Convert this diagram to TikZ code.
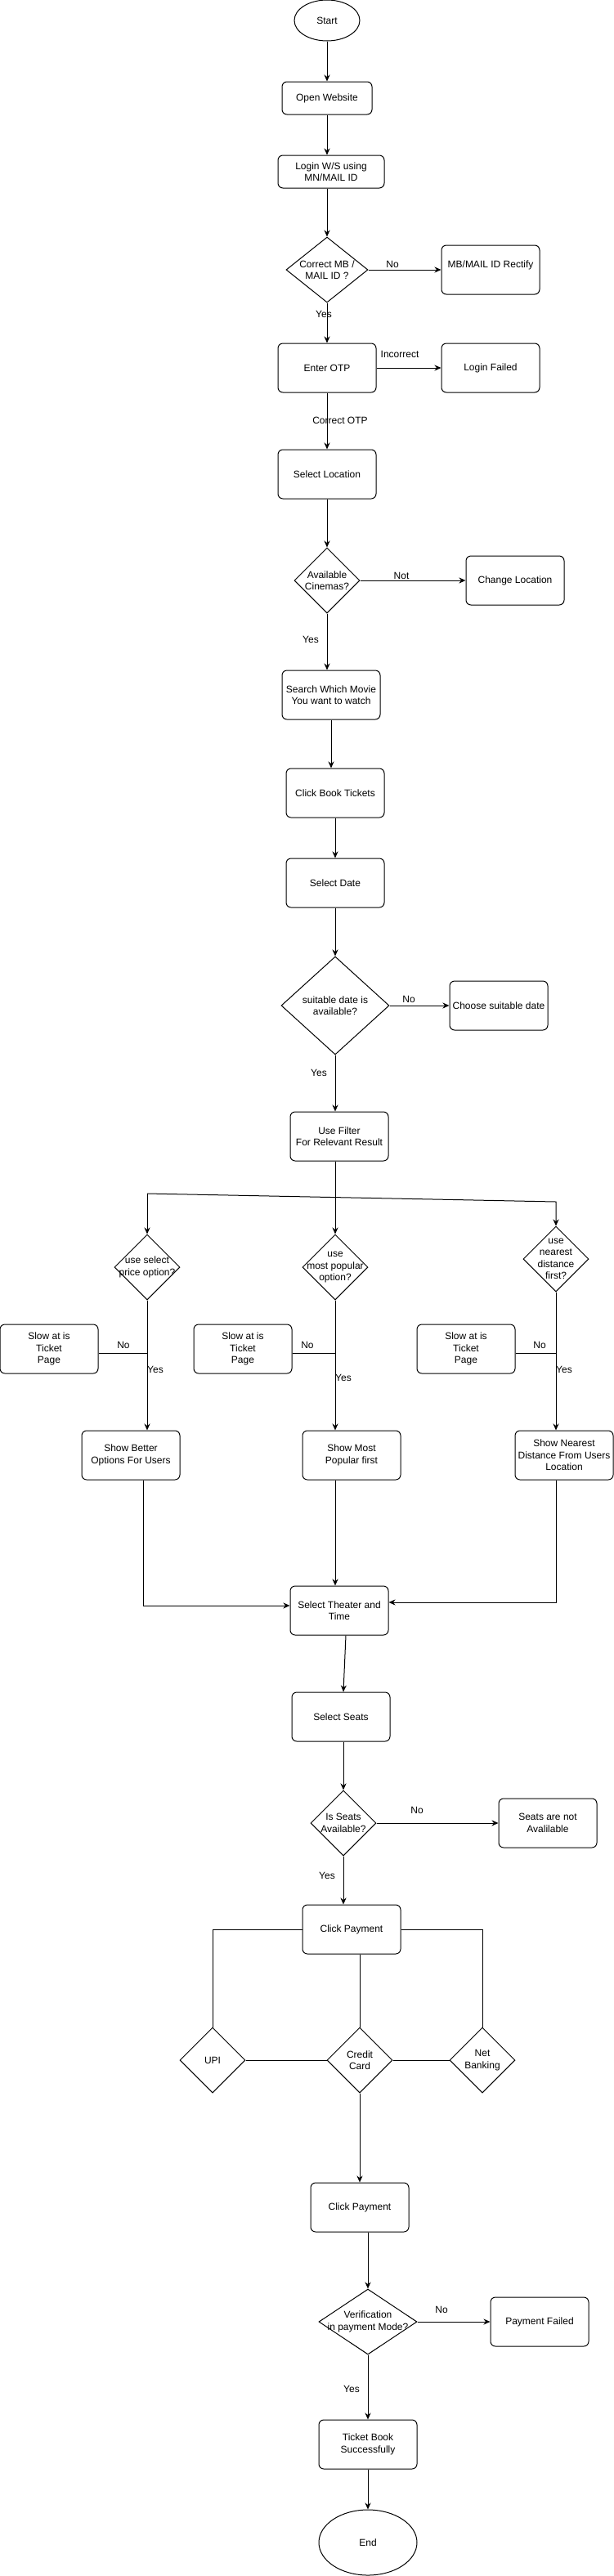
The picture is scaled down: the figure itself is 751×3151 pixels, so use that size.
\documentclass[tikz,border=0pt]{standalone}
\usepackage{fontspec}
\setmainfont{Liberation Sans}
\usetikzlibrary{arrows.meta, shapes.geometric}

\begin{document}
\begin{tikzpicture}[
    x=1pt, y=-1pt,
    every node/.style={font=\fontsize{12pt}{14.4pt}\selectfont},
    box/.style={draw, rectangle, rounded corners=6pt, minimum width=120pt, minimum height=60pt, align=center, inner sep=2pt, line width=1pt},
    dec/.style={draw, diamond, minimum width=80pt, minimum height=80pt, inner sep=0pt, line width=1pt},
    dtext/.style={align=center, inner sep=0pt},
    term/.style={draw, ellipse, minimum width=120pt, minimum height=80pt, inner sep=0pt, line width=1pt},
    lbl/.style={inner sep=0pt},
    arrow/.style={-{Stealth[length=8pt, width=7pt, inset=2.5pt]}, line width=1pt},
    link/.style={line width=1pt}
]
\path[use as bounding box, fill=white] (0,0) rectangle (751,3151);

\node[term, minimum width=80pt, minimum height=50pt] (start) at (400,25) {Start};
\node[box, minimum width=110pt, minimum height=40pt] (openweb) at (400,120) {Open Website};
\node[box, minimum width=130pt, minimum height=40pt] (login) at (405,210) {Login W/S using\\MN/MAIL ID};
\node[dec, minimum width=100pt, label={[dtext]center:Correct MB /\\MAIL ID ?}] (chkmail) at (400,330) {};
\node[box] (rectify) at (600,330) {MB/MAIL ID Rectify\\\mbox{}};
\node[box] (otp) at (400,450) {Enter OTP};
\node[box] (loginfail) at (600,450) {Login Failed};
\node[box] (location) at (400,580) {Select Location};
\node[dec, label={[dtext]center:Available\\Cinemas?}] (cinemas) at (400,710) {};
\node[box] (changeloc) at (630,710) {Change Location};
\node[box] (search) at (405,850) {Search Which Movie\\You want to watch};
\node[box] (booktk) at (410,970) {Click Book Tickets};
\node[box] (seldate) at (410,1080) {Select Date};
\node[dec, minimum width=132pt, minimum height=120pt, label={[dtext]center:suitable date is\\available?}] (datedec) at (410,1230) {};
\node[box] (choosedate) at (610,1230) {Choose suitable date};
\node[box] (filter) at (415,1390) {Use Filter\\For Relevant Result};
\node[dec, label={[dtext]center:use select\\price option?}] (pricedec) at (180,1550) {};
\node[dec, label={[dtext]center:use\\most popular\\option?}] (populardec) at (410,1550) {};
\node[dec, label={[dtext]center:use\\nearest\\distance\\first?}] (neardec) at (680,1540) {};
\node[box] (slowa) at (60,1650) {Slow at is\\Ticket\\Page};
\node[box] (slowb) at (297,1650) {Slow at is\\Ticket\\Page};
\node[box] (slowc) at (570,1650) {Slow at is\\Ticket\\Page};
\node[box] (better) at (160,1780) {Show Better\\Options For Users};
\node[box] (popular) at (430,1780) {Show Most\\Popular first};
\node[box] (nearest) at (690,1780) {Show Nearest\\Distance From Users\\Location};
\node[box] (theater) at (415,1970) {Select Theater and\\Time};
\node[box] (seats) at (417,2100) {Select Seats};
\node[dec, label={[dtext]center:Is Seats\\Available?}] (seatdec) at (420,2230) {};
\node[box] (noseats) at (670,2230) {Seats are not\\Avalilable};
\node[box] (payment) at (430,2360) {Click Payment};
\node[dec, label={[dtext]center:UPI}] (upi) at (260,2520) {};
\node[dec, label={[dtext]center:Credit\\Card}] (card) at (440,2520) {};
\node[dec, label={[dtext]center:Net\\Banking}] (netbank) at (590,2520) {};
\node[box] (payclick) at (440,2700) {Click Payment};
\node[dec, minimum width=120pt, label={[dtext]center:Verification\\in payment Mode?}] (verify) at (450,2840) {};
\node[box] (payfail) at (660,2840) {Payment Failed};
\node[box] (success) at (450,2990) {Ticket Book\\Successfully};
\node[term] (finish) at (450,3110) {End};

\node[lbl] (nomail) at (480,323) {No};
\node[lbl] (yesmail) at (396,384) {Yes};
\node[lbl] (badotp) at (489,433) {Incorrect};
\node[lbl] (goodotp) at (416,514) {Correct OTP};
\node[lbl] (nocine) at (491,704) {Not};
\node[lbl] (yescine) at (380,782) {Yes};
\node[lbl] (nodate) at (500,1222) {No};
\node[lbl] (yesdate) at (390,1312) {Yes};
\node[lbl] (noprice) at (151,1645) {No};
\node[lbl] (yesprice) at (190,1675) {Yes};
\node[lbl] (nopop) at (376,1645) {No};
\node[lbl] (yespop) at (420,1685) {Yes};
\node[lbl] (nonear) at (660,1645) {No};
\node[lbl] (yesnear) at (690,1675) {Yes};
\node[lbl] (noseat) at (510,2214) {No};
\node[lbl] (yesseat) at (400,2294) {Yes};
\node[lbl] (nopay) at (540,2825) {No};
\node[lbl] (yespay) at (430,2922) {Yes};

\coordinate (forkl) at (180,1460);
\coordinate (forkr) at (680,1470);

\draw[arrow] (start) -- (openweb);
\draw[arrow] (openweb) -- (openweb |- login.north);
\draw[arrow] (login.south -| chkmail) -- (chkmail);
\draw[arrow] (chkmail) -- (rectify);
\draw[arrow] (chkmail) -- (otp);
\draw[arrow] (otp) -- (loginfail);
\draw[arrow] (otp) -- (location);
\draw[arrow] (location) -- (cinemas);
\draw[arrow] (cinemas) -- (changeloc);
\draw[arrow] (cinemas) -- (cinemas |- search.north);
\draw[arrow] (search) -- (search |- booktk.north);
\draw[arrow] (booktk) -- (seldate);
\draw[arrow] (seldate) -- (datedec);
\draw[arrow] (datedec) -- (choosedate);
\draw[arrow] (datedec) -- (datedec |- filter.north);
\draw[arrow] (filter.south -| populardec) -- (populardec);
\draw[arrow] (forkl) -- (pricedec);
\draw[arrow] (forkl) -- (forkr) -- (neardec);
\draw[arrow] (pricedec) -- (pricedec |- better.north);
\draw[arrow] (populardec) -- (populardec |- popular.north);
\draw[arrow] (neardec) -- (neardec |- nearest.north);
\draw[link] ([yshift=-5pt]slowa.east) -- ([yshift=-5pt]slowa.east -| pricedec);
\draw[link] ([yshift=-5pt]slowb.east) -- ([yshift=-5pt]slowb.east -| populardec);
\draw[link] ([yshift=-5pt]slowc.east) -- ([yshift=-5pt]slowc.east -| neardec);
\draw[arrow] ([xshift=15pt]better.south) |- ([yshift=6pt]theater.west);
\draw[arrow] (popular.south -| populardec) -- (populardec |- theater.north);
\draw[arrow] (nearest.south -| neardec) |- ([yshift=10pt]theater.east);
\draw[arrow] ([xshift=8pt]theater.south) -- ([xshift=3pt]seats.north);
\draw[arrow] (seats.south -| seatdec) -- (seatdec);
\draw[arrow] (seatdec) -- (noseats);
\draw[arrow] (seatdec) -- (seatdec |- payment.north);
\draw[link] (payment) -| (upi);
\draw[link] (payment) -| (netbank);
\draw[link] (payment.south -| card) -- (card);
\draw[link] (upi) -- (card);
\draw[link] (card) -- (netbank);
\draw[arrow] (card) -- (payclick);
\draw[arrow] (payclick.south -| verify) -- (verify);
\draw[arrow] (verify) -- (payfail);
\draw[arrow] (verify) -- (success);
\draw[arrow] (success) -- (finish);
\end{tikzpicture}
\end{document}
